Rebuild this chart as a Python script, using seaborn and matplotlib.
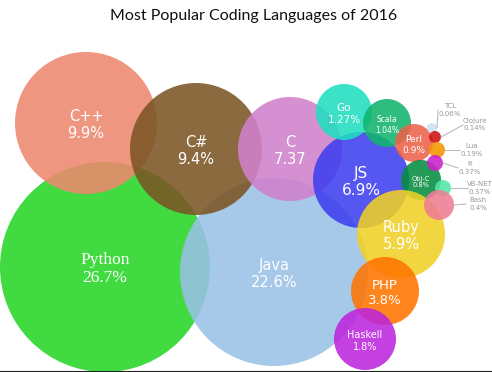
import numpy as np
import pandas as pd
import matplotlib
matplotlib.use("Agg")
from matplotlib import pyplot as plt
import seaborn as sns

# data (pixel coords of bubble centres, radius in px)
languages = ["Python", "Java", "C++", "C#", "C", "JS", "Go", "Scala", "Perl",
             "Obj-C", "Ruby", "PHP", "Haskell", "TCL", "Clojure", "Lua", "R",
             "VB-NET", "Bash"]
shares = ["26.7%", "22.6%", "9.9%", "9.4%", "7.37", "6.9%", "1.27%", "1.04%", "0.9%",
          "0.8%", "5.9%", "3.8%", "1.8%", "0.06%", "0.14%", "0.19%", "0.37%",
          "0.37%", "0.4%"]
x_pos = [105, 274, 86, 196, 290, 361, 344, 387, 414, 421, 401, 385, 365, 432, 435, 437, 435, 443, 439]
y_pos = [267, 272, 123, 149, 149, 180, 112, 123, 143, 180, 234, 291, 339, 128, 137, 150, 163, 188, 205]
radius = [105, 94, 71, 66, 52, 48, 28, 24, 19, 20, 44, 34, 31, 5, 6, 8, 8, 8, 15]
colors = ["#27D527", "#9AC1E7", "#ED886E", "#7B5524", "#D081CC", "#3E3EEE", "#20DFC1",
          "#12B46D", "#EC624A", "#058D3F", "#F0D126", "#FF7400", "#BC25DC", "#D0E0EE",
          "#CD1313", "#F49400", "#CB1FCB", "#51E5A5", "#EE7C93"]

# small bubbles get an outside label
small = ["TCL", "Clojure", "Lua", "R", "VB-NET", "Bash"]
label_x = [450, 475, 472, 470, 480, 478]
label_y = [110, 125, 150, 168, 188, 204]

df = pd.DataFrame({"lang": languages, "share": shares, "x": x_pos, "y": y_pos, "r": radius})

sns.set_theme(style="white")
fig = plt.figure(figsize=(4.92, 3.72), dpi=100)
ax = fig.add_axes([0, 0, 1, 1])

# marker area in pt^2 so the diameter matches 2r pixels
size_map = {l: (2 * r * 72 / 100) ** 2 for l, r in zip(languages, radius)}
pal = dict(zip(languages, colors))
sns.scatterplot(data=df, x="x", y="y", hue="lang", size="lang", sizes=size_map,
                palette=pal, alpha=0.88, linewidth=0, legend=False, ax=ax)

ax.set_xlim(0, 492)
ax.set_ylim(372, 0)
ax.axis("off")

# labels inside bubbles
fonts = {"Python": 12.5, "Java": 10.5, "C++": 10.5, "C#": 10.5, "C": 10.5, "JS": 11,
         "Go": 7.5, "Scala": 5.5, "Perl": 6.5, "Obj-C": 4.8, "Ruby": 10.5,
         "PHP": 9.5, "Haskell": 7}
for i, row in df.iterrows():
    if row["lang"] not in fonts:
        continue
    fam = "Liberation Serif" if row["lang"] == "Python" else "DejaVu Sans"
    ax.text(row["x"], row["y"] + 2, row["lang"] + "\n" + row["share"], color="white",
            ha="center", va="center", fontsize=fonts[row["lang"]], family=fam,
            linespacing=1.15)

# outside labels with leader lines
for lang, lx, ly in zip(small, label_x, label_y):
    row = df[df["lang"] == lang].iloc[0]
    ax.plot([row["x"] + row["r"], lx - 12], [row["y"], ly], color="#BBBBBB", lw=0.8)
    ax.text(lx, ly, lang + "\n" + row["share"], color="#999999", ha="center", va="center",
            fontsize=5, linespacing=1.2)

ax.text(254, 16, "Most Popular Coding Languages of 2016", ha="center", va="center",
        fontsize=11.5, family="Lato", color="#111111")
ax.axhline(371.5, color="#222222", lw=1.5)

fig.savefig("out.png", dpi=100)
